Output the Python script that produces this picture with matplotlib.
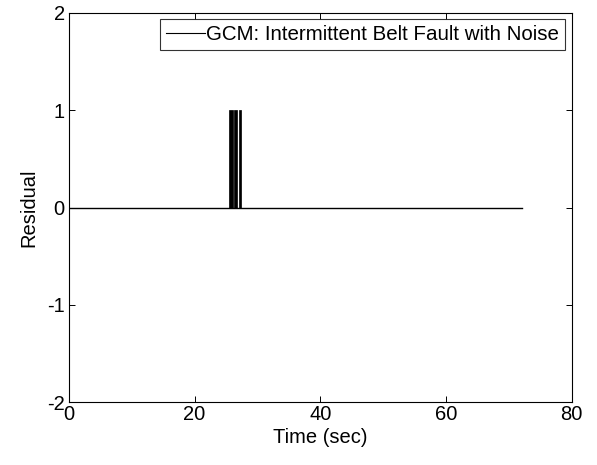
import matplotlib
matplotlib.use("Agg")
import matplotlib.pyplot as plt
from matplotlib.lines import Line2D

plt.rcParams['font.family'] = ['Liberation Sans', 'DejaVu Sans']
plt.rcParams['axes.unicode_minus'] = False

# Baseline residual (zero) over the run
time_span = [0.0, 72.1]
baseline = [0.0, 0.0]
# Intermittent fault pulses (residual = 1)
pulse_start = [25.5, 26.33, 27.02]
pulse_end = [26.13, 26.72, 27.35]
pulse_value = [1, 1, 1]

xticks = [0, 20, 40, 60, 80]
yticks = [-2, -1, 0, 1, 2]

fig = plt.figure(figsize=(5.97, 4.65), dpi=100)
ax = fig.add_axes([69 / 597, 1 - 402.3 / 465, (571.5 - 69) / 597, (402.3 - 12.7) / 465])

ax.plot(time_span, baseline, color='black', lw=1.0)
widths = [e - s for s, e in zip(pulse_start, pulse_end)]
ax.bar(pulse_start, pulse_value, width=widths, align='edge', color='black', edgecolor='black', linewidth=0.5)

ax.set_xlim(0, 80)
ax.set_ylim(-2, 2)
ax.set_xticks(xticks)
ax.set_yticks(yticks)
ax.tick_params(direction='in', top=True, right=True, labelsize=14.5, length=4, width=0.7)
ax.tick_params(axis='x', pad=2)
ax.tick_params(axis='y', pad=3)
for s in ax.spines.values():
    s.set_linewidth(0.8)
ax.set_xlabel('Time (sec)', fontsize=14.5, labelpad=3)
ax.set_ylabel('Residual', fontsize=14.5, labelpad=6)

handle = Line2D([], [], color='black', lw=0.8)
leg = ax.legend([handle], ['GCM: Intermittent Belt Fault with Noise'], loc='upper right',
                fontsize=14.8, frameon=True, fancybox=False, edgecolor='black',
                handlelength=1.9, borderaxespad=0.3, handletextpad=0.05, borderpad=0.3)
leg.get_frame().set_linewidth(0.8)

fig.savefig('out.png', dpi=100)
